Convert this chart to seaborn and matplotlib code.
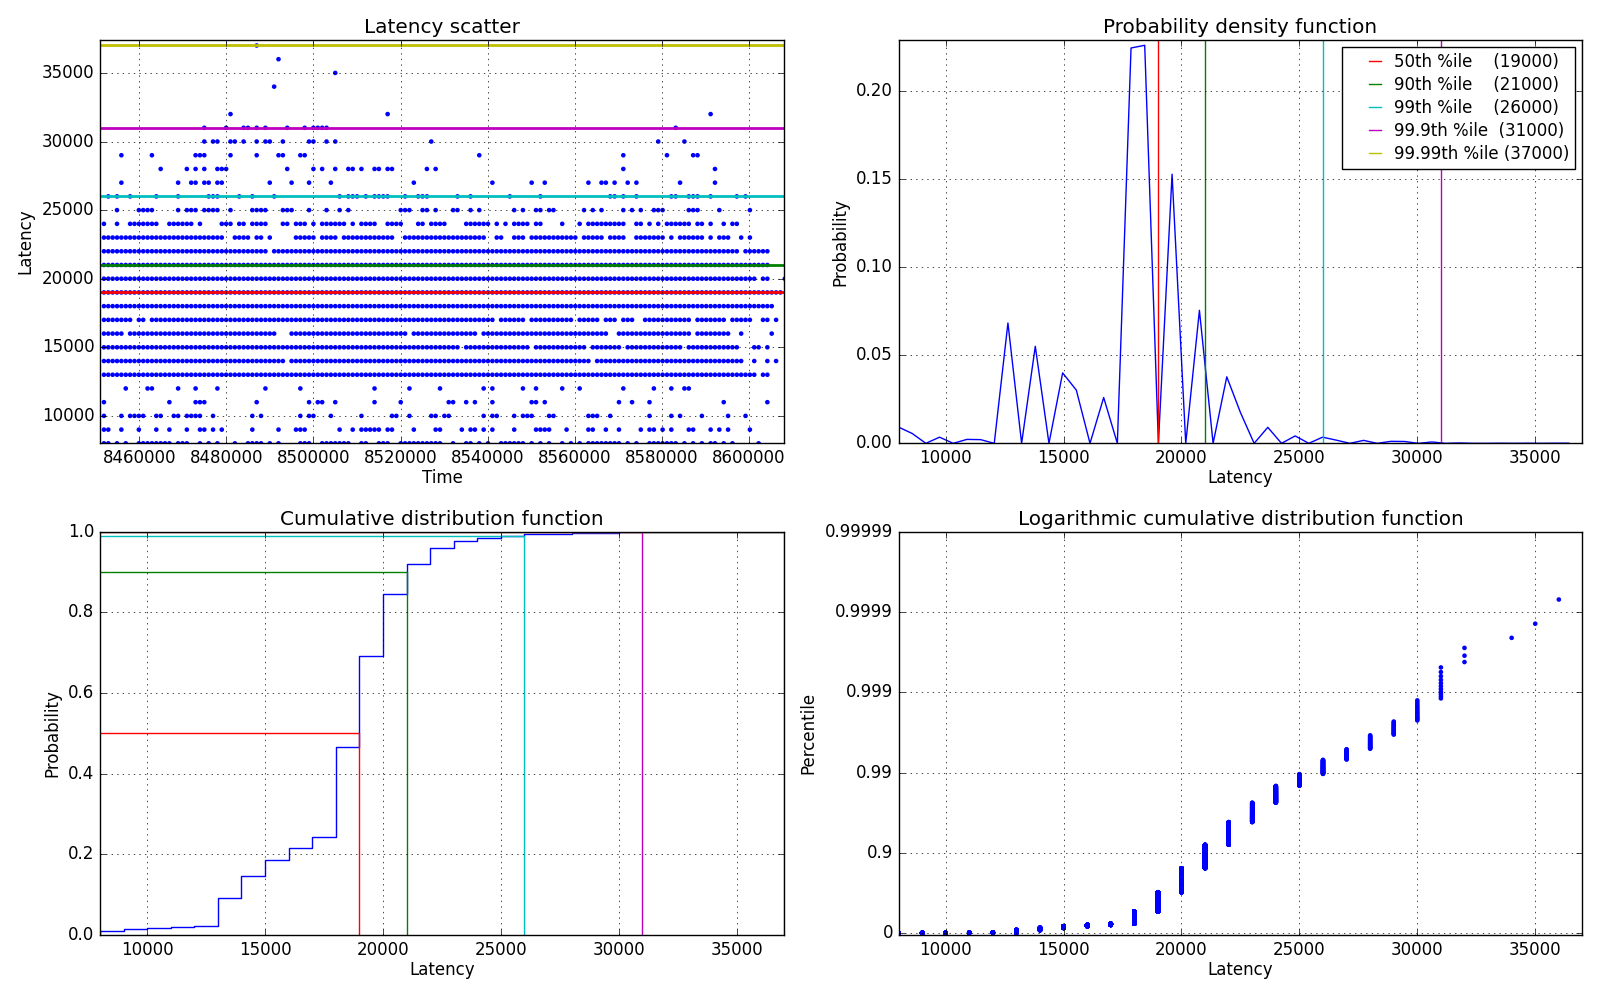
import numpy as np
import pandas as pd
import matplotlib
matplotlib.use('Agg')
import matplotlib.pyplot as plt
from matplotlib.legend_handler import HandlerLine2D
import seaborn as sns

# latency levels (every request lands on a multiple of 1000) and request counts,
# read off the PDF / CDF / log-CDF panels
latency_levels = [8000, 9000, 10000, 11000, 12000, 13000, 14000, 15000, 16000, 17000,
                  18000, 19000, 20000, 21000, 22000, 23000, 24000, 25000, 26000, 27000,
                  28000, 29000, 30000, 31000, 32000, 33000, 34000, 35000, 36000, 37000]
latency_counts = [132, 80, 50, 32, 30, 977, 788, 572, 432, 372,
                  3210, 3232, 2185, 1080, 540, 250, 130, 60, 50, 26,
                  24, 16, 15, 11, 3, 0, 1, 1, 1, 1]

# percentile markers from the legend
pct_fractions = [0.5, 0.9, 0.99, 0.999, 0.9999]
pct_names = ['50th %ile', '90th %ile', '99th %ile', '99.9th %ile', '99.99th %ile']
pct_values = [19000, 21000, 26000, 31000, 37000]
pct_colors = ['r', 'g', 'c', 'm', 'y']

# latency scatter: for each level, the time slots that hold a dot
# (slot i sits at SCATTER_T0 + i * SCATTER_STEP)
SCATTER_T0 = 8451900
SCATTER_STEP = 1002
scatter_levels = latency_levels
scatter_slots = [
    "0 1 3 5 8-15 17-19 22 24 26 30 33-36 38 40 45-47 50-56 59 60 63-65 68-77 80 83 84 86 88 "
    "91-96 98 100 102 105 107 109 111-118 120 122 125-131 133 135 137 139 140 142 144 150",
    "0 1 4 8 12 15 19 22 23 25 27 34 40 44-46 54 57 59-63 65 66 71 76 77 82 84 85 87 89 94 "
    "99-102 106 111 112 115 118 123 125 126 128 130 134 135 139 141 143 148",
    "0 4 6-9 12 13 16 17 19-22 25 34 36 45 47 48 52 59 66 67 70 75 76 78 79 87 89 90 94 96-98 "
    "102 103 111-113 116 125 130 132 137 143 147",
    "0 15 21-23 35 47 49 50 53 62 68 79 80 83 85 89 98 99 101 118 121 125 142 152",
    "5 10 11 17 21 26 37 45 62 70 77 87 89 96 99 105 109 119 126 130 133 134",
    "0-149 151 152",
    "0-41 43-111 113-146 149 152 154",
    "0-81 83-97 99-110 112-118 120-132 134-145 149 150 152",
    "0-4 6-39 43-69 71-85 87-115 118-134 136-143 146 153",
    "0-6 8 9 11-89 91-96 98-107 109-113 115-117 119-121 124-134 136-142 144-148 151 152 154",
    "0-153",
    "0-155",
    "0-149 151 152 156",
    "0-152",
    "0-37 39-145 147-152",
    "0-27 30-33 35 36 38 44-48 50-53 55-66 69-87 90 91 94-96 98-108 110-114 116-119 122-128 "
    "130 132-137 139 141-143 146 148",
    "0 3 6-12 15-20 22 27-29 31 32 34-37 41 42 44-46 48 50-55 57 59-62 65-68 72 73 75-78 83-88 "
    "90 92 94-97 99 100 105 109 111-119 122 123 125 127 129-134 136 137 139 142 144 145",
    "3 8-11 17 19-21 23-26 29 34-37 41-43 47 51 54 56 68-70 73 74 76 80 81 84 86 94 96 99 100 "
    "102 103 110 112 114 119 121 123 126-128 134-136 141 148",
    "1 3 6 12 17 24-26 31 34 39 54 56-58 60 62-65 69 72-74 81 84 93 100 116 117 119 122 130 131 "
    "134-136 139 145 147",
    "4 17 20 21 23 24 26 27 38 43 47 52 71 89 98 101 111 114 115 117 120 122 132 140",
    "13 19 21 23 26-28 42 48 50 53 56 57 59 62 63 65 66 74 76 119 140",
    "4 11 21-23 29 35 40 41 45 46 86 119 129 135 136",
    "23 25 26 29 30 32 35 37 38 41 47 48 51 53 75 127 133",
    "23 28 32 33 35 37 42 46 48-51 131",
    "29 65 139",
    "",
    "39",
    "53",
    "40",
    "35",
]

time_ticks = [8460000, 8480000, 8500000, 8520000, 8540000, 8560000, 8580000, 8600000]
scatter_yticks = [10000, 15000, 20000, 25000, 30000, 35000]
lat_ticks = [10000, 15000, 20000, 25000, 30000, 35000]
log_ticks = [0, 1, 2, 3, 4, 5]
log_labels = ['0', '0.9', '0.99', '0.999', '0.9999', '0.99999']


def parse_slots(spec):
    slots = []
    for part in spec.split():
        if '-' in part:
            a, b = part.split('-')
            slots.extend(range(int(a), int(b) + 1))
        else:
            slots.append(int(part))
    return slots


plt.style.use('classic')
plt.rcParams['figure.facecolor'] = 'white'
plt.rcParams['savefig.facecolor'] = 'white'
plt.rcParams['font.family'] = ['DejaVu Sans']

fig, axes = plt.subplots(2, 2, figsize=(16, 10), dpi=100)
fig.subplots_adjust(left=0.0625, right=0.989, top=0.96, bottom=0.065,
                    wspace=0.1676, hspace=0.219)
ax_sc, ax_pdf, ax_cdf, ax_log = axes.flat

lat_min, lat_max = latency_levels[0], latency_levels[-1]
n_total = sum(latency_counts)

# --- latency scatter ---
times, lats = [], []
for level, spec in zip(scatter_levels, scatter_slots):
    for slot in parse_slots(spec):
        times.append(SCATTER_T0 + SCATTER_STEP * slot)
        lats.append(level)
sc_df = pd.DataFrame({'Time': times, 'Latency': lats})
sns.scatterplot(data=sc_df, x='Time', y='Latency', ax=ax_sc, color='b',
                s=11, linewidth=0, edgecolor='none')
for v, c in zip(pct_values, pct_colors):
    ax_sc.axhline(v, color=c, linewidth=2)
ax_sc.set_xlim(8451000, 8608000)
ax_sc.set_ylim(8000, 37400)
ax_sc.set_xticks(time_ticks)
ax_sc.set_yticks(scatter_yticks)
ax_sc.ticklabel_format(style='plain', useOffset=False)
ax_sc.set_title('Latency scatter', fontsize=14.4, pad=5)
ax_sc.set_xlabel('Time')
ax_sc.set_ylabel('Latency')

# --- probability density function (50 bins over the latency range) ---
hist, edges = np.histogram(latency_levels, bins=50, range=(lat_min, lat_max),
                           weights=latency_counts)
pdf_df = pd.DataFrame({'Latency': edges[:-1], 'Probability': hist / n_total})
sns.lineplot(data=pdf_df, x='Latency', y='Probability', ax=ax_pdf, color='b',
             linewidth=1, estimator=None)
pct_lines = []
for name, v, c in zip(pct_names, pct_values, pct_colors):
    pct_lines.append(ax_pdf.axvline(v, color=c, linewidth=1,
                                    label='%-12s (%d)' % (name, v)))
ax_pdf.set_xlim(lat_min, lat_max)
ax_pdf.set_ylim(0, 0.229)
ax_pdf.set_xticks(lat_ticks)
ax_pdf.set_yticks([0.0, 0.05, 0.10, 0.15, 0.20])
ax_pdf.yaxis.set_major_formatter(matplotlib.ticker.FormatStrFormatter('%.2f'))
ax_pdf.set_title('Probability density function', fontsize=14.4, pad=5)
ax_pdf.set_xlabel('Latency')
ax_pdf.set_ylabel('Probability')
leg = ax_pdf.legend(handles=pct_lines, loc='upper right', fontsize=12, frameon=True,
                    fancybox=False, handlelength=2.3, handletextpad=0.45,
                    borderpad=0.35, labelspacing=0.3, borderaxespad=0.45,
                    handler_map={line: HandlerLine2D(xpad=0.95) for line in pct_lines})
leg.get_frame().set_edgecolor('k')

# --- cumulative distribution function ---
sns.ecdfplot(x=latency_levels, weights=latency_counts, ax=ax_cdf, color='b', linewidth=1)
for p, v, c in zip(pct_fractions, pct_values, pct_colors):
    ax_cdf.plot([lat_min, v, v], [p, p, 0], color=c, linewidth=1)
ax_cdf.set_xlim(lat_min, lat_max)
ax_cdf.set_ylim(0, 1)
ax_cdf.set_xticks(lat_ticks)
ax_cdf.set_yticks([0.0, 0.2, 0.4, 0.6, 0.8, 1.0])
ax_cdf.set_title('Cumulative distribution function', fontsize=14.4, pad=5)
ax_cdf.set_xlabel('Latency')
ax_cdf.set_ylabel('Probability')

# --- logarithmic cumulative distribution function ---
sorted_lat = np.repeat(latency_levels, latency_counts)
rank = np.arange(1, n_total + 1) / n_total
with np.errstate(divide='ignore'):
    depth = -np.log10(1 - rank)
keep = np.isfinite(depth)
log_df = pd.DataFrame({'Latency': sorted_lat[keep], 'Percentile': depth[keep]})
sns.scatterplot(data=log_df, x='Latency', y='Percentile', ax=ax_log, color='b',
                s=11, linewidth=0, edgecolor='none')
ax_log.set_xlim(lat_min, lat_max)
ax_log.set_ylim(-0.02, 5)
ax_log.set_xticks(lat_ticks)
ax_log.set_yticks(log_ticks)
ax_log.set_yticklabels(log_labels)
ax_log.set_title('Logarithmic cumulative distribution function', fontsize=14.4, pad=5)
ax_log.set_xlabel('Latency')
ax_log.set_ylabel('Percentile')

for ax in axes.flat:
    ax.grid(True, linestyle=':', color='k', linewidth=0.5)
    ax.tick_params(labelsize=12)
    ax.xaxis.label.set_size(12)
    ax.yaxis.label.set_size(12)
    ax.xaxis.labelpad = 1.5

fig.savefig('out.png', dpi=100, facecolor='white')
